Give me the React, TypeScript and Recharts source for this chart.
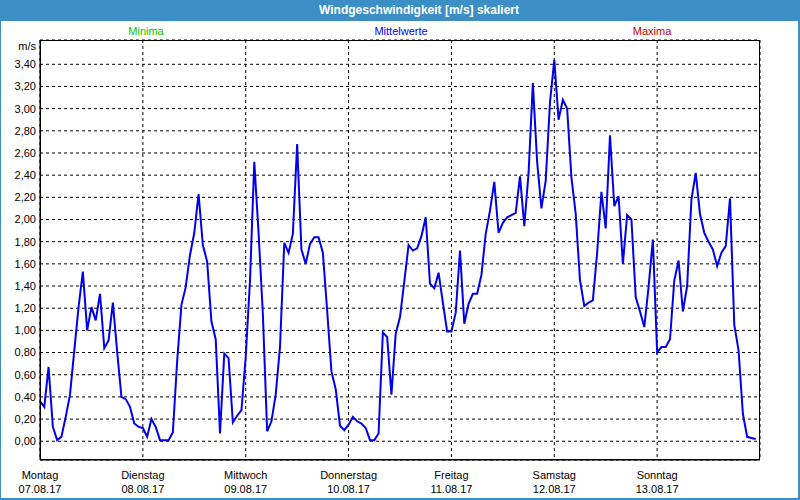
import { LineChart, Line, XAxis, YAxis, CartesianGrid } from "recharts";

const FONT = '"Liberation Sans", Arial, sans-serif';
const FRAME_BLUE = "#3C8FC6";

const dayNames = [
  "Montag",
  "Dienstag",
  "Mittwoch",
  "Donnerstag",
  "Freitag",
  "Samstag",
  "Sonntag",
];
const dayDates = [
  "07.08.17",
  "08.08.17",
  "09.08.17",
  "10.08.17",
  "11.08.17",
  "12.08.17",
  "13.08.17",
];
// hours since Montag 00:00
const dayTicks = [0, 24, 48, 72, 96, 120, 144];

const yTicks = [
  0, 0.2, 0.4, 0.6, 0.8, 1.0, 1.2, 1.4, 1.6, 1.8, 2.0, 2.2, 2.4, 2.6, 2.8,
  3.0, 3.2, 3.4,
];

// Mittelwerte, one value per hour (m/s)
const meanValues = [
  // Mo
  0.36, 0.31, 0.67, 0.13, 0.01, 0.04, 0.22, 0.42, 0.82, 1.21, 1.53, 1.0,
  1.21, 1.09, 1.33, 0.84, 0.91, 1.25, 0.81, 0.4, 0.38, 0.31, 0.16, 0.13,
  // Di
  0.12, 0.04, 0.2, 0.13, 0.01, 0.01, 0.01, 0.08, 0.72, 1.23, 1.39, 1.68,
  1.88, 2.23, 1.77, 1.62, 1.08, 0.92, 0.07, 0.79, 0.75, 0.17, 0.23, 0.28,
  // Mi
  0.76, 1.45, 2.52, 1.88, 1.15, 0.09, 0.18, 0.42, 0.85, 1.79, 1.7, 1.87,
  2.68, 1.73, 1.6, 1.78, 1.84, 1.84, 1.7, 1.18, 0.63, 0.47, 0.14, 0.1,
  // Do
  0.15, 0.22, 0.18, 0.16, 0.12, 0.01, 0.01, 0.07, 0.98, 0.94, 0.42, 0.97,
  1.12, 1.44, 1.77, 1.72, 1.74, 1.85, 2.02, 1.42, 1.38, 1.52, 1.25, 0.99,
  // Fr
  0.99, 1.16, 1.72, 1.06, 1.24, 1.33, 1.33, 1.5, 1.87, 2.08, 2.34, 1.88,
  1.97, 2.02, 2.04, 2.06, 2.39, 1.94, 2.42, 3.23, 2.52, 2.1, 2.35, 3.06,
  // Sa
  3.44, 2.9, 3.08, 3.0, 2.38, 2.05, 1.45, 1.22, 1.25, 1.27, 1.7, 2.25,
  1.92, 2.76, 2.12, 2.21, 1.6, 2.04, 2.0, 1.3, 1.17, 1.03, 1.39, 1.82,
  // So
  0.8, 0.85, 0.85, 0.92, 1.45, 1.63, 1.17, 1.4, 2.18, 2.42, 2.05, 1.88,
  1.8, 1.73, 1.58, 1.7, 1.76, 2.19, 1.05, 0.82, 0.25, 0.04, 0.03, 0.02,
];

const chartData = meanValues.map((value, hour) => ({ hour, mean: value }));

function DayTick(props: any) {
  const { x, y, payload } = props;
  const i = dayTicks.indexOf(payload.value);
  return (
    <g>
      <text
        x={x}
        y={y + 19}
        textAnchor="middle"
        fontSize={11}
        fontFamily={FONT}
        fill="#000"
      >
        {dayNames[i]}
      </text>
      <text
        x={x}
        y={y + 33}
        textAnchor="middle"
        fontSize={11}
        fontFamily={FONT}
        fill="#000"
      >
        {dayDates[i]}
      </text>
    </g>
  );
}

const legendItems = [
  { label: "Minima", color: "#00C800", center: 146 },
  { label: "Mittelwerte", color: "#0000FF", center: 401 },
  { label: "Maxima", color: "#C00000", center: 652 },
];

export default function App() {
  return (
    <div
      style={{
        position: "absolute",
        left: 0,
        top: 0,
        width: 800,
        height: 500,
        background: "#fff",
        fontFamily: FONT,
        overflow: "hidden",
      }}
    >
      {/* title bar */}
      <div
        style={{
          position: "absolute",
          left: 0,
          top: 0,
          width: 800,
          height: 21,
          background: FRAME_BLUE,
        }}
      >
        <span
          style={{
            position: "absolute",
            left: 419,
            top: 3,
            transform: "translateX(-50%)",
            color: "#fff",
            fontWeight: "bold",
            fontSize: 12,
            whiteSpace: "nowrap",
          }}
        >
          Windgeschwindigkeit [m/s] skaliert
        </span>
      </div>

      {legendItems.map((item) => (
        <span
          key={item.label}
          style={{
            position: "absolute",
            left: item.center,
            top: 25,
            transform: "translateX(-50%)",
            color: item.color,
            fontSize: 11,
            whiteSpace: "nowrap",
          }}
        >
          {item.label}
        </span>
      ))}

      <span
        style={{
          position: "absolute",
          right: 800 - 36,
          top: 40,
          fontSize: 11,
          color: "#000",
        }}
      >
        m/s
      </span>

      <div style={{ position: "absolute", left: 0, top: 0 }}>
        <LineChart
          width={800}
          height={500}
          data={chartData}
          margin={{ top: 40, right: 40, bottom: 0, left: 0 }}
        >
          <CartesianGrid
            stroke="#000"
            strokeDasharray="3 3"
            horizontal={true}
            vertical={true}
          />
          <XAxis
            dataKey="hour"
            type="number"
            domain={[0, 168]}
            ticks={dayTicks}
            interval={0}
            height={40}
            tickLine={false}
            tickSize={0}
            tickMargin={0}
            axisLine={{ stroke: "#000" }}
            tick={<DayTick />}
            allowDataOverflow
          />
          <YAxis
            type="number"
            domain={[-0.169, 3.619]}
            ticks={yTicks}
            interval={0}
            width={40}
            tickLine={false}
            tickSize={4}
            tickMargin={0}
            axisLine={{ stroke: "#000" }}
            allowDataOverflow
            tick={{ fontSize: 11, fill: "#000", fontFamily: FONT }}
            tickFormatter={(v: number) => v.toFixed(2).replace(".", ",")}
          />
          <Line
            type="linear"
            dataKey="mean"
            stroke="#0000EE"
            strokeWidth={2}
            dot={false}
            activeDot={false}
            isAnimationActive={false}
          />
        </LineChart>
      </div>

      {/* plot frame (top/right edge) */}
      <div
        style={{
          position: "absolute",
          left: 40,
          top: 40,
          width: 720,
          height: 420,
          border: "1px solid #000",
          boxSizing: "border-box",
          pointerEvents: "none",
        }}
      />

      {/* window frame */}
      <div
        style={{
          position: "absolute",
          left: 0,
          top: 0,
          width: 800,
          height: 500,
          borderLeft: `1px solid ${FRAME_BLUE}`,
          borderRight: `2px solid ${FRAME_BLUE}`,
          borderBottom: `2px solid ${FRAME_BLUE}`,
          boxSizing: "border-box",
          pointerEvents: "none",
        }}
      />
    </div>
  );
}
